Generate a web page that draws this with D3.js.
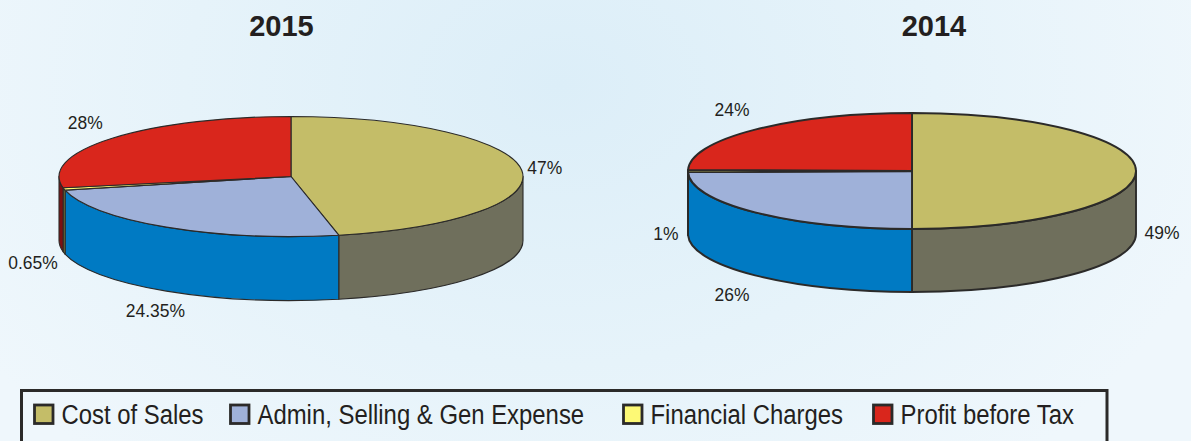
<!doctype html>
<html>
<head>
<meta charset="utf-8">
<script src="https://cdn.jsdelivr.net/npm/d3@7"></script>
<style>
  html, body { margin: 0; padding: 0; overflow: hidden; }
  svg { display: block; font-family: "Liberation Sans", Arial, sans-serif; fill: #231f20; }
</style>
</head>
<body>
<script>
const categories = ["Cost of Sales", "Admin, Selling & Gen Expense", "Financial Charges", "Profit before Tax"];
const years = ["2015", "2014"];
// slice sizes as drawn; the pies are not drawn exactly to their printed labels
const shares2015 = [46.7, 24.65, 0.65, 28];
const shares2014 = [50, 24.7, 0.6, 24.7];
const labels2015 = ["47%", "24.35%", "0.65%", "28%"];
const labels2014 = ["49%", "26%", "1%", "24%"];

const topColors = ["#c4bd68", "#9fb1d9", "#fdf975", "#d9261c"];
const wallColors = ["#6f6f5c", "#007ac3", "#8f8a3a", "#7c1012"];

const width = 1191, height = 441;

const pies = [
  {title: years[0], shares: shares2015, labels: labels2015, cx: 291, cy: 176.5, rx: 232, ry: 60, depth: 64, sw: 1.1, titleX: 281.5,
   nudges: [[23, -3], [-11, 83], [-31, 73], [-27, -16]]},
  {title: years[1], shares: shares2014, labels: labels2014, cx: 912, cy: 171, rx: 224, ry: 58, depth: 63, sw: 1.9, titleX: 934,
   nudges: [[26, 61], [-23, 82], [-22, 62], [-23, -20]]}
];

const svg = d3.select("body").append("svg")
    .attr("width", width)
    .attr("height", height)
    .attr("viewBox", [0, 0, width, height]);

const defs = svg.append("defs");
const bg = defs.append("radialGradient")
    .attr("id", "bg")
    .attr("gradientUnits", "userSpaceOnUse")
    .attr("cx", 560).attr("cy", 60).attr("r", 680)
    .attr("gradientTransform", "translate(0,40) scale(1,0.75)");
bg.append("stop").attr("offset", 0).attr("stop-color", "#dceef8");
bg.append("stop").attr("offset", 0.55).attr("stop-color", "#e6f3fa");
bg.append("stop").attr("offset", 1).attr("stop-color", "#eff7fc");

svg.append("rect")
    .attr("width", width)
    .attr("height", height)
    .attr("fill", "url(#bg)");

const pie = d3.pie().sort(null).value(d => d);

pies.forEach(p => {
  const slices = pie(p.shares);
  const g = svg.append("g").attr("transform", `translate(${p.cx},${p.cy})`);
  const px = a => p.rx * Math.sin(a);
  const py = a => -p.ry * Math.cos(a);

  // outer wall only shows on the front half, angles 90deg..270deg from the top
  const wall = d => {
    const a0 = Math.max(d.startAngle, Math.PI / 2);
    const a1 = Math.min(d.endAngle, Math.PI * 1.5);
    if (a1 <= a0) return null;
    return `M${px(a0)},${py(a0)}`
      + `A${p.rx},${p.ry} 0 0 1 ${px(a1)},${py(a1)}`
      + `L${px(a1)},${py(a1) + p.depth}`
      + `A${p.rx},${p.ry} 0 0 0 ${px(a0)},${py(a0) + p.depth}Z`;
  };

  const top = d => `M0,0L${px(d.startAngle)},${py(d.startAngle)}`
    + `A${p.rx},${p.ry} 0 ${d.endAngle - d.startAngle > Math.PI ? 1 : 0} 1 ${px(d.endAngle)},${py(d.endAngle)}Z`;

  g.append("g")
    .selectAll("path")
    .data(slices.filter(wall))
    .join("path")
      .attr("d", wall)
      .attr("fill", d => wallColors[d.index])
      .attr("stroke", "#2b2a29")
      .attr("stroke-width", p.sw)
      .attr("stroke-linejoin", "round");

  g.append("g")
    .selectAll("path")
    .data(slices)
    .join("path")
      .attr("d", top)
      .attr("fill", d => topColors[d.index])
      .attr("stroke", "#2b2a29")
      .attr("stroke-width", p.sw)
      .attr("stroke-linejoin", "round");

  // the printed type is condensed, so squeeze it sideways
  g.append("g")
    .selectAll("text")
    .data(slices)
    .join("text")
      .attr("transform", d => {
        const mid = (d.startAngle + d.endAngle) / 2;
        return `translate(${px(mid) + p.nudges[d.index][0]},${py(mid) + p.nudges[d.index][1]}) scale(0.92,1)`;
      })
      .attr("dy", "0.36em")
      .attr("text-anchor", "middle")
      .attr("font-size", 19)
      .text(d => p.labels[d.index]);

  svg.append("text")
      .attr("x", p.titleX)
      .attr("y", 35.5)
      .attr("text-anchor", "middle")
      .attr("font-size", 29)
      .attr("font-weight", "bold")
      .text(p.title);
});

// legend box runs off the bottom of the picture
svg.append("rect")
    .attr("x", 21.5)
    .attr("y", 390.5)
    .attr("width", 1085.5)
    .attr("height", 70)
    .attr("fill", "none")
    .attr("stroke", "#2b2a29")
    .attr("stroke-width", 3);

const legendX = [34.5, 230.5, 623.5, 873.5];
const legend = svg.append("g")
  .selectAll("g")
  .data(categories)
  .join("g")
    .attr("transform", (d, i) => `translate(${legendX[i]},405)`);

legend.append("rect")
    .attr("width", 18.5)
    .attr("height", 18.5)
    .attr("fill", (d, i) => topColors[i])
    .attr("stroke", "#2b2a29")
    .attr("stroke-width", 2.8);

legend.append("text")
    .attr("transform", "translate(27,19) scale(0.885,1)")
    .attr("font-size", 27)
    .text(d => d);
</script>
</body>
</html>
